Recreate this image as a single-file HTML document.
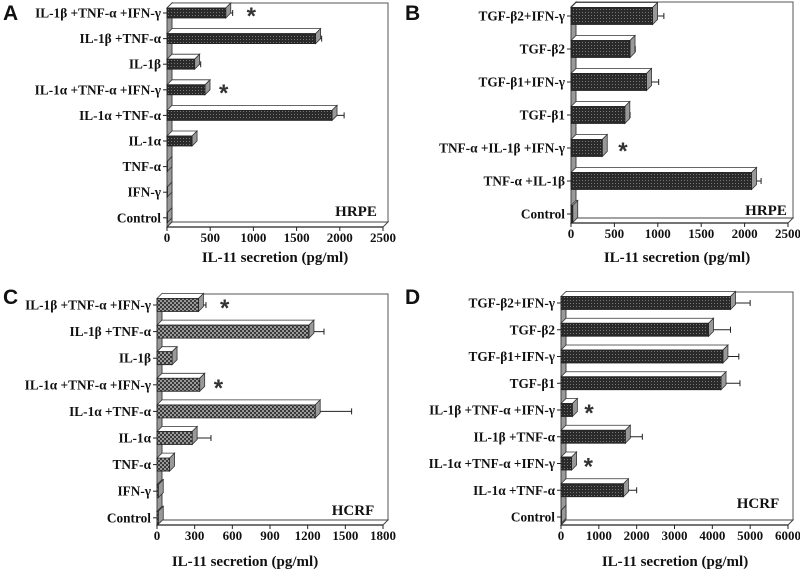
<!DOCTYPE html>
<html><head><meta charset="utf-8"><style>
body{margin:0;background:#fff;}
svg{display:block;font-family:"Liberation Serif",serif;}
.lbl{font-size:13.3px;font-weight:bold;text-anchor:end;fill:#111;}
.tick{font-size:13px;font-weight:bold;text-anchor:middle;fill:#111;}
.ttl{font-size:15px;font-weight:bold;text-anchor:middle;fill:#111;}
.let{font-family:"Liberation Sans",sans-serif;font-size:21px;font-weight:bold;fill:#111;}
</style></head><body>
<svg id="fig" width="800" height="570" viewBox="0 0 800 570">
<defs>
<pattern id="hatchA" width="3" height="3" patternUnits="userSpaceOnUse"><rect width="3" height="3" fill="#2a2a2a"/><rect width="1" height="1" fill="#777"/></pattern>
<pattern id="hatchC" width="4" height="4" patternUnits="userSpaceOnUse"><rect width="4" height="4" fill="#3a3a3a"/><circle cx="1" cy="1" r="0.9" fill="#ddd"/><circle cx="3" cy="3" r="0.9" fill="#ddd"/></pattern>
</defs>
</svg>
<script>
// Panel A data
const catsA=["IL-1β +TNF-α +IFN-γ","IL-1β +TNF-α","IL-1β","IL-1α +TNF-α +IFN-γ","IL-1α +TNF-α","IL-1α","TNF-α","IFN-γ","Control"];
const valsA=[680,1720,320,440,1910,290,0,0,0];
const errA=[760,1790,390,0,2050,0,0,0,0];
const starA=[1,0,0,1,0,0,0,0,0];
const ticksA=[0,500,1000,1500,2000,2500];
// Panel B data
const catsB=["TGF-β2+IFN-γ","TGF-β2","TGF-β1+IFN-γ","TGF-β1","TNF-α +IL-1β +IFN-γ","TNF-α +IL-1β","Control"];
const valsB=[940,680,870,620,360,2080,20];
const errB=[1070,740,1010,680,0,2190,0];
const starB=[0,0,0,0,1,0,0];
const ticksB=[0,500,1000,1500,2000,2500];
// Panel C data
const catsC=["IL-1β +TNF-α +IFN-γ","IL-1β +TNF-α","IL-1β","IL-1α +TNF-α +IFN-γ","IL-1α +TNF-α","IL-1α","TNF-α","IFN-γ","Control"];
const valsC=[330,1210,120,340,1260,280,100,10,10];
const errC=[390,1330,0,0,1550,430,0,0,0];
const starC=[1,0,0,1,0,0,0,0,0];
const ticksC=[0,300,600,900,1200,1500,1800];
// Panel D data
const catsD=["TGF-β2+IFN-γ","TGF-β2","TGF-β1+IFN-γ","TGF-β1","IL-1β +TNF-α +IFN-γ","IL-1β +TNF-α","IL-1α +TNF-α +IFN-γ","IL-1α +TNF-α","Control"];
const valsD=[4480,3900,4280,4230,300,1700,280,1650,0];
const errD=[5000,4480,4700,4730,0,2150,0,2000,0];
const starD=[0,0,0,0,1,0,1,0,0];
const ticksD=[0,1000,2000,3000,4000,5000,6000];

const NS="http://www.w3.org/2000/svg";
const svg=document.getElementById('fig');
function mk(tag,attrs,parent,txt){const e=document.createElementNS(NS,tag);for(const k in attrs)e.setAttribute(k,attrs[k]);if(txt!==undefined)e.textContent=txt;parent.appendChild(e);return e;}

function panel(o){
  const g=mk('g',{},svg);
  
  
  const d=5,x0=o.x0,x1=o.x1,top=o.top,ay=o.axisY,max=o.ticks[o.ticks.length-1];
  const sx=v=>x0+(v/max)*(x1-x0);
  const cy=i=>o.c0+i*o.step;
  const bw=mk('rect',{x:x0+d,y:top,width:x1-x0,height:ay-d-top,fill:'#fff',stroke:'#555','stroke-width':1},g);
  
  const lw=mk('polygon',{points:`${x0},${top+d} ${x0+d},${top} ${x0+d},${ay-d} ${x0},${ay}`,fill:'#999',stroke:'#444','stroke-width':1},g);
  
  const fl=mk('polygon',{points:`${x0},${ay} ${x0+d},${ay-d} ${x1+d},${ay-d} ${x1},${ay}`,fill:'#fff',stroke:'#444','stroke-width':1},g);
  
  const ax=mk('line',{x1:x0,y1:ay,x2:x1,y2:ay,stroke:'#222','stroke-width':1.2},g);
  
  o.ticks.forEach(t=>{
    mk('line',{x1:sx(t),y1:ay,x2:sx(t),y2:ay+4,stroke:'#222'},g);
    const tl=mk('text',{x:sx(t),y:ay+15,class:'tick'},g,String(t));
    
  });
  const tt=mk('text',{x:o.titleX,y:o.titleY,class:'ttl'},g,'IL-11 secretion (pg/ml)');
  
  const cl=mk('text',{x:o.cellX,y:o.cellY,class:'ttl'},g,o.cell);
  
  const pl=mk('text',{x:o.letX,y:o.letY,class:'let'},g,o.id);
  
  o.cats.forEach((c,i)=>{
    const y=cy(i),h=o.bh,v=o.vals[i],xv=sx(v),yt=y-h/2;
    mk('line',{x1:x0-4,y1:y,x2:x0,y2:y,stroke:'#222'},g);
    const lb=mk('text',{x:x0-6,y:y+4.5,class:'lbl'},g,c);
    
    const bg=mk('g',{},g);
    
    mk('polygon',{points:`${x0},${yt} ${x0+d},${yt-d} ${xv+d},${yt-d} ${xv},${yt}`,fill:'#fff',stroke:'#333','stroke-width':0.8},bg);
    mk('polygon',{points:`${xv},${yt} ${xv+d},${yt-d} ${xv+d},${yt+h-d} ${xv},${yt+h}`,fill:'#999',stroke:'#333','stroke-width':0.8},bg);
    mk('rect',{x:x0,y:yt,width:Math.max(xv-x0,0.5),height:h,fill:o.fill,stroke:'#222','stroke-width':0.8},bg);
    const e=o.err[i];
    if(e>v){
      const ex=sx(e);
      const el=mk('path',{d:`M${xv+d} ${y}H${ex}M${ex} ${y-3}V${y+3}`,stroke:'#222','stroke-width':1,fill:'none'},g);
      
    }
    if(o.star[i]){
      const sxp=Math.max(sx(e>v?e:v),xv)+o.starOff;
      const st=mk('text',{x:sxp,y:y+11,style:'font-size:24px;font-weight:bold;font-family:Liberation Sans,sans-serif',fill:'#333'},g,'*');
      
    }
  });
}
panel({id:'A',cats:catsA,vals:valsA,err:errA,star:starA,ticks:ticksA,x0:167,x1:383,top:3,axisY:227,c0:13,step:25.6,bh:10,fill:'url(#hatchA)',titleX:275,titleY:262,cell:'HRPE',cellX:356,cellY:216,letX:3,letY:20,starOff:14});
panel({id:'B',cats:catsB,vals:valsB,err:errB,star:starB,ticks:ticksB,x0:571,x1:788,top:2,axisY:223,c0:16,step:33,bh:17,fill:'url(#hatchA)',titleX:677,titleY:262,cell:'HRPE',cellX:766,cellY:215,letX:405,letY:20,starOff:16});
panel({id:'C',cats:catsC,vals:valsC,err:errC,star:starC,ticks:ticksC,x0:157,x1:383,top:294,axisY:525,c0:305,step:26.6,bh:13,fill:'url(#hatchC)',titleX:245,titleY:566,cell:'HCRF',cellX:353,cellY:515,letX:3,letY:304,starOff:14});
panel({id:'D',cats:catsD,vals:valsD,err:errD,star:starD,ticks:ticksD,x0:561,x1:788,top:292,axisY:525,c0:303,step:26.75,bh:13,fill:'url(#hatchA)',titleX:675,titleY:566,cell:'HCRF',cellX:758,cellY:508,letX:405,letY:304,starOff:12});
</script>
</body></html>
